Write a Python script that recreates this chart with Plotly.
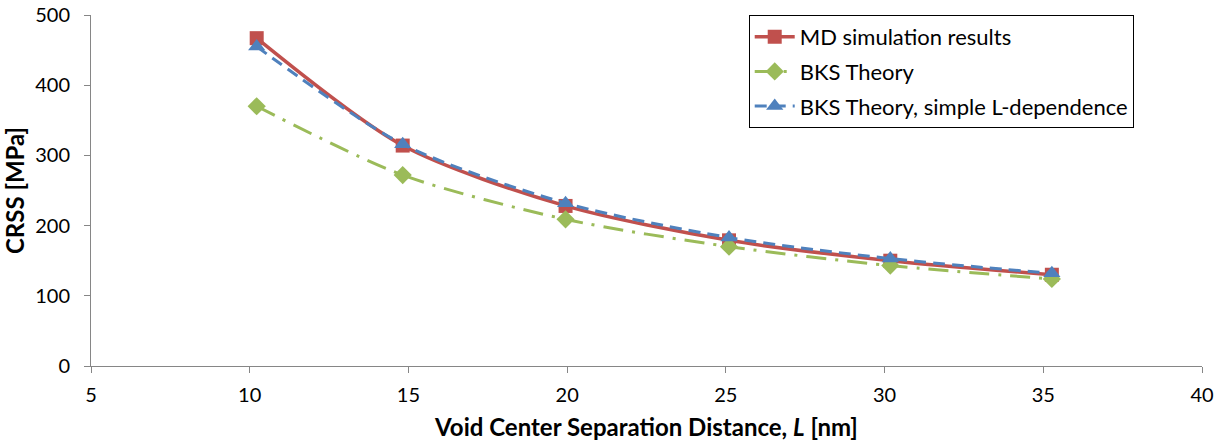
import plotly.graph_objects as go

L_md = [10.22, 14.82, 19.95, 25.1, 30.18, 35.27]
crss_md = [467, 314, 228, 179, 150, 130]
L_bks = [10.22, 14.82, 19.95, 25.1, 30.18, 35.27]
crss_bks = [370, 272, 209, 170, 143, 124]
L_simple = [10.22, 14.82, 19.95, 25.1, 30.18, 35.27]
crss_simple = [455, 316, 232, 183, 153, 132]

FONT = "Lato, 'Open Sans', sans-serif"
RED = "#C0504D"
GREEN = "#9BBB59"
BLUE = "#4F81BD"

fig = go.Figure()
fig.add_trace(go.Scatter(
    x=L_md, y=crss_md, name="MD simulation results", legendgroup="a",
    mode="lines+markers", line=dict(color=RED, width=3.5, shape="spline", smoothing=0.8),
    marker=dict(symbol="square", size=14, color=RED)))
fig.add_trace(go.Scatter(
    x=L_bks, y=crss_bks, name="BKS Theory", legendgroup="b",
    mode="lines+markers", line=dict(color=GREEN, width=3, dash="20px,9px,3px,9px", shape="spline", smoothing=0.8),
    marker=dict(symbol="diamond", size=14, color=GREEN)))
fig.add_trace(go.Scatter(
    x=L_simple, y=crss_simple, name="BKS Theory, simple L-dependence", legendgroup="c",
    mode="lines+markers", line=dict(color=BLUE, width=3, dash="12px,7px", shape="spline", smoothing=0.8),
    marker=dict(symbol="triangle-up", size=15, color=BLUE)))

fig.update_layout(
    width=1219, height=444,
    margin=dict(l=91, r=17, t=15, b=78, autoexpand=False),
    paper_bgcolor="white", plot_bgcolor="white",
    font=dict(family=FONT, size=20, color="black"),
    showlegend=True,
    legend=dict(
        x=0.592, y=1.0, xanchor="left", yanchor="top",
        bordercolor="black", borderwidth=1, bgcolor="white",
        font=dict(family=FONT, size=22), tracegroupgap=3,
        traceorder="grouped", itemwidth=40,
    ),
    xaxis=dict(
        range=[5, 40], tickvals=[5, 10, 15, 20, 25, 30, 35, 40],
        showgrid=False, zeroline=False, showline=True, linecolor="#868686", linewidth=1,
        ticks="outside", ticklen=6, tickcolor="#868686", ticklabelstandoff=5,
        automargin=False,
        title=dict(text="<b>Void Center Separation Distance, <i>L</i> [nm]</b>",
                   font=dict(family=FONT, size=24), standoff=14),
    ),
    yaxis=dict(
        range=[0, 500], tickvals=[0, 100, 200, 300, 400, 500],
        showgrid=False, zeroline=False, showline=True, linecolor="#868686", linewidth=1,
        ticks="outside", ticklen=6, tickcolor="#868686", ticklabelstandoff=10,
        automargin=False,
        title=dict(text="<b>CRSS [MPa]</b>", font=dict(family=FONT, size=24), standoff=4),
    ),
)

fig.write_html("out.html")
